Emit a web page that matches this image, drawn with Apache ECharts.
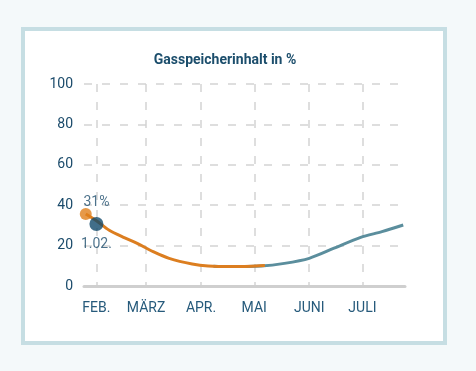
<!DOCTYPE html>
<html><head><meta charset="utf-8">
<script src="https://cdn.jsdelivr.net/npm/echarts@6/dist/echarts.min.js"></script>
<style>
html,body{margin:0;padding:0;width:476px;height:371px;background:#f4f9fa;overflow:hidden}
#frame{position:absolute;left:21px;top:27px;width:418px;height:310px;border:4px solid #c6dee3;background:#fff}
#chart{position:absolute;left:0;top:0;width:476px;height:371px}
</style></head><body><div id="frame"></div><div id="chart"></div>
<script>
// Axis ticks
var monthLabels = ['FEB.', 'MÄRZ', 'APR.', 'MAI', 'JUNI', 'JULI'];
var yTicks = [0, 20, 40, 60, 80, 100];
var axisStart = '2023-01-25';
var axisEnd = '2023-07-25';

// Series (storage level in %)
var orangeDates = ['2023-01-26','2023-02-01','2023-02-08','2023-02-17','2023-02-24','2023-03-05','2023-03-14','2023-03-27','2023-04-05','2023-04-18','2023-05-02','2023-05-07'];
var orangeValues = [35.6, 32.3, 27.7, 23.8, 21.1, 17.0, 13.7, 10.9, 9.9, 9.6, 9.9, 10.1];
var tealDates = ['2023-04-08','2023-04-16','2023-05-05','2023-05-18','2023-06-01','2023-06-15','2023-06-30','2023-07-12','2023-07-24'];
var tealValues = [9.8, 9.6, 9.9, 11.2, 13.7, 18.7, 24.1, 26.9, 30.2];
var markerDate = ['2023-02-01'];
var markerValue = [30.7];
var markerLabels = ['31%', '1.02.'];

// build day categories
var categories = [];
(function(){
  var d = new Date(axisStart + 'T12:00:00Z'), e = new Date(axisEnd + 'T12:00:00Z');
  while (d <= e) { categories.push(d.toISOString().slice(0,10)); d = new Date(d.getTime() + 86400000); }
})();
function isMonthStart(i, v) { return String(v).slice(8) === '01'; }
function pairs(ds, vs) { return ds.map(function(d, i){ return [d, vs[i]]; }); }

var chart = echarts.init(document.getElementById('chart'), null, {renderer:'canvas'});
var dash = {color:'#d3d3d3', width:1.5, type:[8,10]};
chart.setOption({
  animation:false,
  backgroundColor:'transparent',
  title:{text:'Gasspeicherinhalt in %', left:220, top:48, textAlign:'center',
    textStyle:{fontFamily:'Roboto', fontSize:14, fontWeight:'bold', color:'#1c4e6c'}},
  grid:{left:84, right:71, top:84, bottom:85, containLabel:false},
  xAxis:{type:'category', data:categories, boundaryGap:false,
    axisLine:{show:true, lineStyle:{color:'#cfcfcf', width:3}},
    axisTick:{show:false},
    axisLabel:{interval:isMonthStart, margin:15, fontFamily:'Roboto', fontSize:14, color:'#265a7b',
      formatter:function(v){ return monthLabels[parseInt(v.slice(5,7),10)-2] || ''; }},
    splitLine:{show:true, interval:isMonthStart, lineStyle:dash}},
  yAxis:{type:'value', min:yTicks[0], max:yTicks[yTicks.length-1], interval:20,
    axisLine:{show:false}, axisTick:{show:false},
    axisLabel:{margin:11, fontFamily:'Roboto', fontSize:14, color:'#1b4b6b'},
    splitLine:{show:true, lineStyle:dash}},
  series:[
    {type:'line', data:pairs(tealDates, tealValues), smooth:0.3, showSymbol:false,
      lineStyle:{color:'#5b8e9d', width:3}, z:3},
    {type:'line', data:pairs(orangeDates, orangeValues), smooth:0.3, showSymbol:false,
      lineStyle:{color:'#dc7e20', width:3}, z:4},
    {type:'scatter', data:[[orangeDates[0], orangeValues[0]]], symbolSize:12,
      itemStyle:{color:'#e07f1c'}, z:5},
    {type:'scatter', data:pairs(markerDate, markerValue), symbolSize:14,
      itemStyle:{color:'#124a6c'}, z:6,
      label:{show:true, position:'inside', lineHeight:21, fontFamily:'Roboto', fontSize:14, color:'#1f4f6e',
        formatter:function(){ return markerLabels[0] + '\n \n' + markerLabels[1]; }}}
  ]
});
</script></body></html>
